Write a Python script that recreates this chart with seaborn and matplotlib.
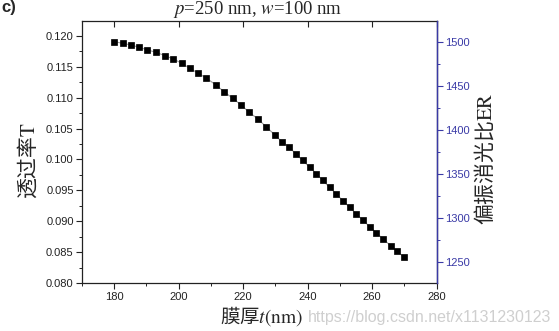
import matplotlib
matplotlib.use("Agg")
import matplotlib.pyplot as plt
from matplotlib.ticker import MultipleLocator
import seaborn as sns
import pandas as pd

# Film thickness t (nm) and transmittance T
thickness = [180.0, 182.6, 185.1, 187.7, 190.3, 192.9, 195.7, 198.3, 200.9, 203.4,
             206.0, 208.6, 211.5, 214.0, 216.7, 219.3, 221.8, 224.6, 227.2, 229.8,
             231.9, 234.2, 236.3, 238.4, 240.6, 242.7, 244.7, 246.8, 248.8, 250.9,
             253.0, 255.0, 257.2, 259.3, 261.3, 263.4, 265.7, 267.7, 269.8]
transmittance = [0.11903, 0.11877, 0.11850, 0.11813, 0.11769, 0.11732, 0.11677, 0.11624,
                 0.11555, 0.11474, 0.11394, 0.11313, 0.11205, 0.11097, 0.10990, 0.10882,
                 0.10765, 0.10652, 0.10523, 0.10398, 0.10290, 0.10200, 0.10092, 0.09984,
                 0.09877, 0.09769, 0.09661, 0.09548, 0.09447, 0.09334, 0.09226, 0.09124,
                 0.09016, 0.08910, 0.08813, 0.08716, 0.08608, 0.08516, 0.08426]

x_ticks = [180, 200, 220, 240, 260, 280]
left_ticks = [0.080, 0.085, 0.090, 0.095, 0.100, 0.105, 0.110, 0.115, 0.120]
right_ticks = [1250, 1300, 1350, 1400, 1450, 1500]

BLUE = "#3a3aa6"
CJK = ["Noto Sans CJK SC", "DejaVu Sans"]

sns.set_style("ticks")
plt.rcParams["font.family"] = ["Liberation Sans", "DejaVu Sans"]
plt.rcParams["mathtext.fontset"] = "stix"

df = pd.DataFrame({"t": thickness, "T": transmittance})

fig = plt.figure(figsize=(5.59, 3.31), dpi=100)
ax = fig.add_axes([0.1467, 0.1441, 0.6345, 0.7934])

sns.lineplot(data=df, x="t", y="T", ax=ax, color="#9a9a9a", linewidth=0.8,
             marker="s", markersize=3.8, markerfacecolor="black",
             markeredgecolor="black", markeredgewidth=0.5)

ax.set_xlim(170, 280)
ax.set_ylim(0.080, 0.12242)
ax.set_xticks(x_ticks)
ax.set_yticks(left_ticks)
ax.set_yticklabels([f"{v:.3f}" for v in left_ticks])
ax.xaxis.set_minor_locator(MultipleLocator(10))
ax.yaxis.set_minor_locator(MultipleLocator(0.0025))
ax.set_xlabel("")
ax.set_ylabel("")
ax.tick_params(axis="both", which="major", direction="out", length=4, width=0.8,
               labelsize=8, colors="#222222", pad=2)
ax.tick_params(axis="both", which="minor", direction="out", length=2.5, width=0.7,
               colors="#222222")
for s in ax.spines.values():
    s.set_linewidth(0.9)
    s.set_color("#222222")

# Top axis with tick marks only
top = ax.secondary_xaxis("top")
top.set_xticks(x_ticks)
top.tick_params(direction="in", length=4, width=0.8, labeltop=False, colors="#222222")
top.spines["top"].set_visible(False)

# Extinction ratio axis on the right
ax2 = ax.twinx()
ax2.set_ylim(1225.5, 1523.9)
ax2.set_yticks(right_ticks)
ax2.yaxis.set_minor_locator(MultipleLocator(25))
ax2.tick_params(axis="y", which="major", direction="out", length=4, width=0.8,
                labelsize=8, colors=BLUE, pad=2)
ax2.tick_params(axis="y", which="minor", direction="out", length=2.5, width=0.7,
                colors=BLUE)
ax2.spines["right"].set_color(BLUE)
ax2.spines["right"].set_linewidth(1.0)
for side in ("left", "top", "bottom"):
    ax2.spines[side].set_visible(False)

fig.text(0.002, 1 - 12 / 331, "c)", fontsize=12, fontweight="bold",
         ha="left", va="baseline")
fig.text(258 / 559, 1 - 14.5 / 331, r"$p$=250 nm, $w$=100 nm",
         family="Liberation Serif", fontsize=13.5, ha="center", va="baseline")

fig.text(28 / 559, 1 - 161 / 331, "透过率$\\mathrm{T}$", family=CJK, fontsize=15,
         rotation=90, ha="center", va="center")
fig.text(485 / 559, 1 - 159 / 331, "偏振消光比$\\mathrm{ER}$", family=CJK, fontsize=15,
         rotation=90, ha="center", va="center")
fig.text(261.5 / 559, 1 - 316.5 / 331, "膜厚$t\\mathrm{(nm)}$", family=CJK, fontsize=14,
         ha="center", va="center")

fig.text(308 / 559, 1 - 322 / 331, "https://blog.csdn.net/x1131230123",
         family="Liberation Sans", fontsize=11.5, color="#cfcfcf",
         ha="left", va="baseline")

fig.savefig("out.png", dpi=100)
